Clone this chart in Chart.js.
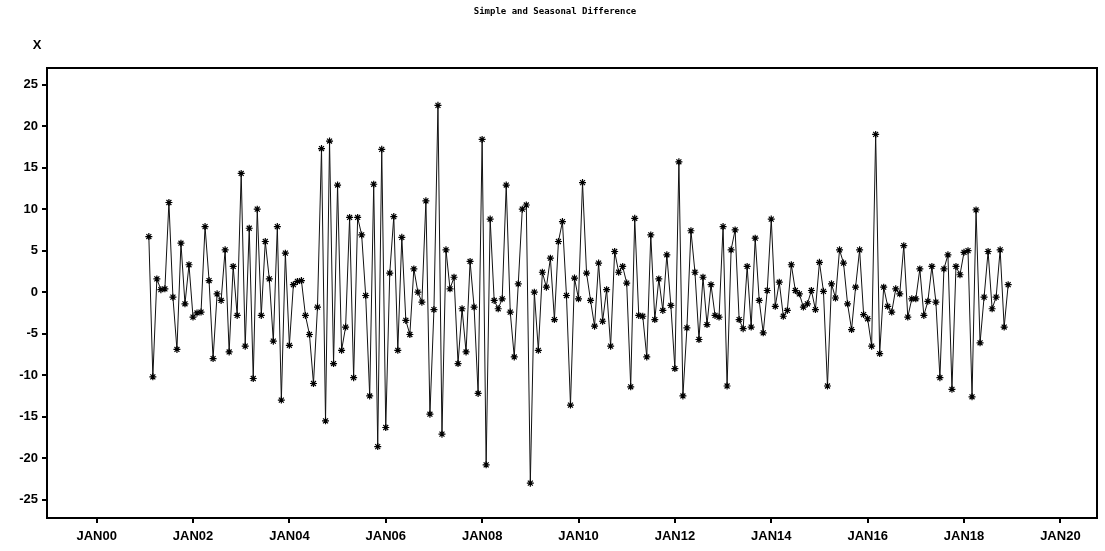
<!DOCTYPE html>
<html>
<head>
<meta charset="utf-8">
<script src="https://cdn.jsdelivr.net/npm/chart.js@4"></script>
<style>
  html, body { margin: 0; padding: 0; background: #fff; }
  canvas { display: block; }
</style>
</head>
<body>
<canvas id="chart" width="1105" height="551"></canvas>
<script>
// monthly series, Feb 2001 .. Dec 2018
const startYear = 2001;
const startMonth = 2;
const diffValues = [
  6.7, -10.2, 1.6, 0.3, 0.4, 10.8, -0.6, -6.9, 5.9, -1.4, 3.3, -3.0, -2.5, -2.4, 7.9, 1.4, -8.0,
  -0.2, -1.0, 5.1, -7.2, 3.1, -2.8, 14.3, -6.5, 7.7, -10.4, 10.0, -2.8, 6.1, 1.6, -5.9, 7.9, -13.0, 4.7, -6.4, 0.9, 1.3,
  1.4, -2.8, -5.1, -11.0, -1.8, 17.3, -15.5, 18.2, -8.6, 12.9, -7.0, -4.2, 9.0, -10.3, 9.0, 6.9, -0.4, -12.5, 13.0, -18.6,
  17.2, -16.3, 2.3, 9.1, -7.0, 6.6, -3.4, -5.1, 2.8, 0.0, -1.2, 11.0, -14.7, -2.1, 22.5, -17.1, 5.1, 0.4, 1.8, -8.6,
  -2.0, -7.2, 3.7, -1.8, -12.2, 18.4, -20.8, 8.8, -1.0, -2.0, -0.8, 12.9, -2.4, -7.8, 1.0, 10.0, 10.5, -23.0, 0.0, -7.0,
  2.4, 0.6, 4.1, -3.3, 6.1, 8.5, -0.4, -13.6, 1.7, -0.8, 13.2, 2.3, -1.0, -4.1, 3.5, -3.5, 0.3, -6.5, 4.9, 2.4,
  3.1, 1.1, -11.4, 8.9, -2.8, -2.9, -7.8, 6.9, -3.3, 1.6, -2.2, 4.5, -1.6, -9.2, 15.7, -12.5, -4.3, 7.4, 2.4, -5.7,
  1.8, -3.9, 0.9, -2.8, -3.0, 7.9, -11.3, 5.1, 7.5, -3.3, -4.4, 3.1, -4.2, 6.5, -1.0, -4.9, 0.2, 8.8, -1.7, 1.2,
  -2.9, -2.2, 3.3, 0.2, -0.2, -1.8, -1.4, 0.2, -2.1, 3.6, 0.1, -11.3, 1.0, -0.7, 5.1, 3.5, -1.4, -4.5, 0.6, 5.1,
  -2.7, -3.2, -6.5, 19.0, -7.4, 0.6, -1.7, -2.4, 0.4, -0.2, 5.6, -3.0, -0.8, -0.8, 2.8, -2.8, -1.1, 3.1, -1.2, -10.3,
  2.8, 4.5, -11.7, 3.1, 2.1, 4.8, 5.0, -12.6, 9.9, -6.1, -0.6, 4.9, -2.0, -0.6, 5.1, -4.2, 0.9
];

const xTickYears = [2000, 2002, 2004, 2006, 2008, 2010, 2012, 2014, 2016, 2018, 2020];
const xTickLabels = ['JAN00', 'JAN02', 'JAN04', 'JAN06', 'JAN08', 'JAN10', 'JAN12', 'JAN14', 'JAN16', 'JAN18', 'JAN20'];
const yTicks = [-25, -20, -15, -10, -5, 0, 5, 10, 15, 20, 25];

const chartTitle = 'Simple and Seasonal Difference';
const yAxisName = 'X';

const points = diffValues.map((v, i) => ({ x: startYear + (startMonth - 1 + i) / 12, y: v }));

const tickFont = { family: '"Liberation Sans", Arial, sans-serif', size: 13, weight: 'bold' };

const frameAndTitle = {
  id: 'frameAndTitle',
  afterDraw(chart) {
    const ctx = chart.ctx;
    const a = chart.chartArea;
    ctx.save();
    ctx.strokeStyle = '#000';
    ctx.lineWidth = 2;
    ctx.strokeRect(a.left, a.top, a.right - a.left, a.bottom - a.top);

    ctx.fillStyle = '#000';
    ctx.font = 'bold 9px "DejaVu Sans Mono", monospace';
    ctx.textAlign = 'center';
    ctx.textBaseline = 'middle';
    ctx.fillText(chartTitle, 555, 12);

    ctx.font = 'bold 13px "Liberation Sans", Arial, sans-serif';
    ctx.fillText(yAxisName, 37, 45);
    ctx.restore();
  }
};

new Chart(document.getElementById('chart'), {
  type: 'line',
  data: {
    datasets: [{
      label: 'X',
      data: points,
      borderColor: '#111',
      borderWidth: 1,
      tension: 0,
      pointStyle: 'star',
      pointRadius: 3.5,
      pointBorderColor: '#000',
      pointBackgroundColor: '#000',
      pointBorderWidth: 1.2
    }]
  },
  options: {
    responsive: false,
    animation: false,
    layout: { padding: { top: 68, right: 8, left: 0, bottom: 0 } },
    plugins: {
      legend: { display: false },
      tooltip: { enabled: false }
    },
    scales: {
      x: {
        type: 'linear',
        min: 1998.97,
        max: 2020.76,
        afterBuildTicks: (scale) => { scale.ticks = xTickYears.map(v => ({ value: v })); },
        afterFit: (scale) => { scale.height = 33; },
        ticks: {
          color: '#000',
          font: tickFont,
          padding: 6,
          maxRotation: 0,
          autoSkip: false,
          callback: (v) => xTickLabels[xTickYears.indexOf(v)]
        },
        grid: { drawOnChartArea: false, drawTicks: true, tickLength: 5, color: '#000', lineWidth: 2 },
        border: { display: true, color: '#000', width: 2 }
      },
      y: {
        min: -27.2,
        max: 27.0,
        afterBuildTicks: (scale) => { scale.ticks = yTicks.map(v => ({ value: v })); },
        afterFit: (scale) => { scale.width = 47; },
        ticks: {
          color: '#000',
          font: tickFont,
          padding: 4,
          autoSkip: false,
          callback: (v) => String(v)
        },
        grid: { drawOnChartArea: false, drawTicks: true, tickLength: 5, color: '#000', lineWidth: 2 },
        border: { display: true, color: '#000', width: 2 }
      }
    }
  },
  plugins: [frameAndTitle]
});
</script>
</body>
</html>
